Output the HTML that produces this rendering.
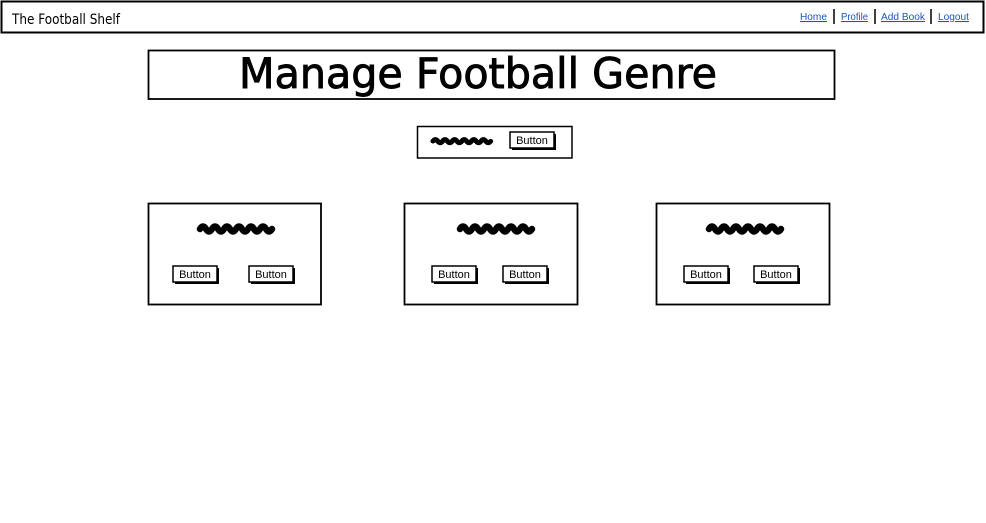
<!DOCTYPE html>
<html><head><meta charset="utf-8"><style>
html,body{margin:0;padding:0;background:#fff;width:986px;height:523px;overflow:hidden}
svg{display:block}
</style></head><body>
<svg width="986" height="523" viewBox="0 0 986 523" xmlns="http://www.w3.org/2000/svg">
<defs>
<g id="btn">
<rect x="2" y="2" width="44" height="16" fill="#000"/>
<rect x="0" y="0" width="44" height="16" fill="#fff" stroke="#000" stroke-width="1.5"/>
<text x="22" y="12" font-family="Liberation Sans, sans-serif" font-size="11" text-anchor="middle" fill="#000">Button</text>
</g>
<path id="scr" d="M0 6 q3 -5 6 0 t6 0 t6 0 t6 0 t6 0 t6 0 t6 0 t6 0 t6 0 t6 0 t6 0 t6 0" fill="none" stroke="#000" stroke-width="6.5" stroke-linecap="round"/>
</defs>
<!-- nav -->
<rect x="1.5" y="1.5" width="982" height="31" fill="#fff" stroke="#000" stroke-width="2"/>
<text x="12" y="24" font-family="DejaVu Sans, sans-serif" font-size="14" textLength="108" lengthAdjust="spacingAndGlyphs">The Football Shelf</text>
<g font-family="Liberation Sans, sans-serif" font-size="10.5" fill="#1a56b8" text-decoration="underline">
<text x="800" y="20" textLength="27" lengthAdjust="spacingAndGlyphs">Home</text>
<text x="841" y="20" textLength="27" lengthAdjust="spacingAndGlyphs">Profile</text>
<text x="881" y="20" textLength="44" lengthAdjust="spacingAndGlyphs">Add Book</text>
<text x="938" y="20" textLength="31" lengthAdjust="spacingAndGlyphs">Logout</text>
</g>
<g stroke="#000" stroke-width="1.5">
<line x1="834" y1="9" x2="834" y2="24"/><line x1="875" y1="9" x2="875" y2="24"/><line x1="931" y1="9" x2="931" y2="24"/>
</g>
<!-- title -->
<rect x="148.5" y="50.5" width="686" height="48.5" fill="#fff" stroke="#000" stroke-width="1.8"/>
<text x="239" y="88" font-family="DejaVu Sans, sans-serif" font-size="42" stroke="#000" stroke-width="0.9" textLength="478" lengthAdjust="spacingAndGlyphs">Manage Football Genre</text>
<!-- search -->
<rect x="417.5" y="126.5" width="154.5" height="31.5" fill="#fff" stroke="#000" stroke-width="1.5"/>
<use href="#scr" transform="translate(433,137) scale(0.8,0.7)"/>
<use href="#btn" x="510" y="132"/>
<!-- cards -->
<g fill="#fff" stroke="#000" stroke-width="1.8">
<rect x="148.5" y="203.5" width="172.5" height="101"/>
<rect x="404.5" y="203.5" width="173" height="101"/>
<rect x="656.5" y="203.5" width="173" height="101"/>
</g>
<use href="#scr" transform="translate(200,223)"/>
<use href="#scr" transform="translate(460,223)"/>
<use href="#scr" transform="translate(709,223)"/>
<use href="#btn" x="173" y="266"/>
<use href="#btn" x="249" y="266"/>
<use href="#btn" x="432" y="266"/>
<use href="#btn" x="503" y="266"/>
<use href="#btn" x="684" y="266"/>
<use href="#btn" x="754" y="266"/>
</svg>
</body></html>
